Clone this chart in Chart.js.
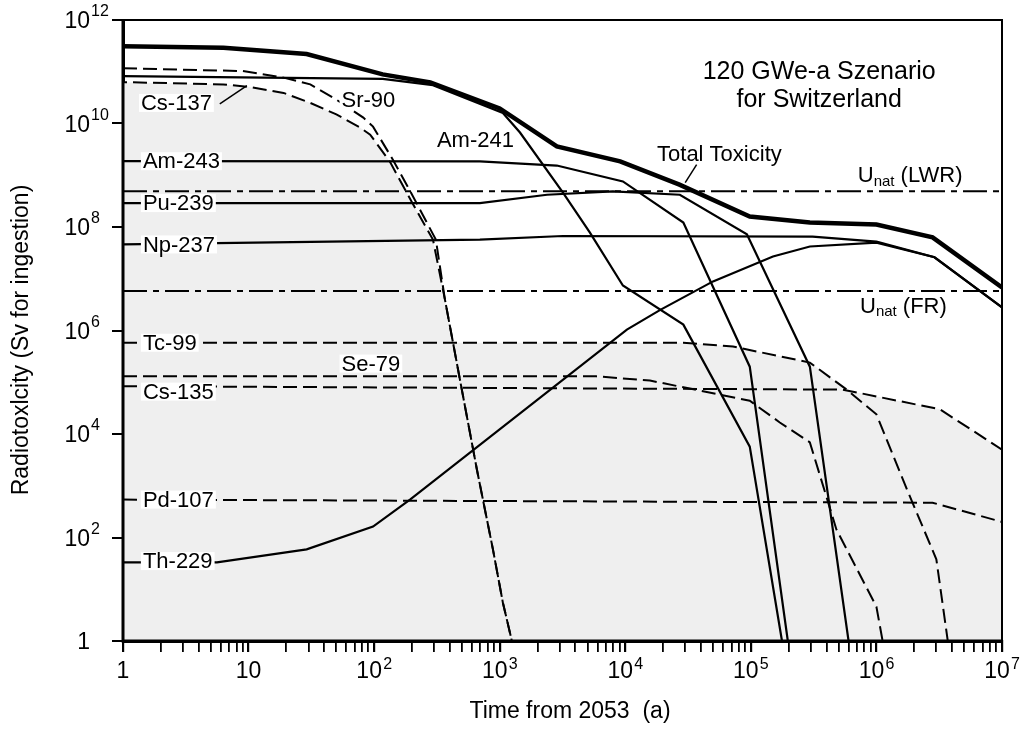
<!DOCTYPE html>
<html>
<head>
<meta charset="utf-8">
<script src="https://cdn.jsdelivr.net/npm/chart.js@4.4.1/dist/chart.umd.min.js"></script>
<style>
  html, body { margin: 0; padding: 0; background: #fff; }
  #wrap { width: 1026px; height: 731px; position: relative; }
</style>
</head>
<body>
<div id="wrap"><canvas id="chart"></canvas></div>
<script>
const FONT = '"Liberation Sans", Arial, Helvetica, sans-serif';

// axis decades (exponents of 10)
const xExponents = [0, 1, 2, 3, 4, 5, 6, 7];
const yExponents = [0, 2, 4, 6, 8, 10, 12];
const minorMantissas = [2, 3, 4, 5, 6, 7, 8, 9];

// time from 2053 (a) and radiotoxicity (Sv)
const totalT = [1, 6.3, 29, 117, 280, 1000, 2850, 9100, 2.7e4, 9.8e4, 2.95e5, 1e6, 2.8e6, 1e7];
const totalV = [3.1e11, 2.9e11, 2.2e11, 8.9e10, 6.2e10, 1.95e10, 3.6e9, 1.85e9, 6.6e8, 1.6e8, 1.22e8, 1.12e8, 6.3e7, 6.8e6];

const sr90T = [1, 9, 19, 31, 50, 82, 98, 141, 204, 310, 366, 482, 658, 883, 1060, 1250];
const sr90V = [1.17e11, 1.03e11, 7.7e10, 5.7e10, 2.9e10, 1.3e10, 8.7e9, 2.0e9, 3.9e8, 5.7e7, 4.0e6, 1.13e5, 2.06e3, 59, 5.5, 1];

const cs137T = [1, 6.3, 10, 19, 31, 50, 77, 93, 134, 200, 294, 366, 482, 658, 883, 1060, 1250];
const cs137V = [6.3e10, 5.7e10, 5.1e10, 3.9e10, 2.5e10, 1.5e10, 8.4e9, 6.1e9, 1.8e9, 3.0e8, 5.7e7, 4.0e6, 1.13e5, 2.06e3, 59, 5.5, 1];

const am241T = [1, 117, 294, 1060, 1450, 3190, 5230, 9570, 2.9e4, 9.8e4, 1.77e5];
const am241V = [8.2e10, 7.3e10, 5.5e10, 1.6e10, 6.7e9, 4.6e8, 7.8e7, 7.4e6, 1.3e6, 5.7e3, 1];

const am243T = [1, 695, 2850, 9570, 2.9e4, 9.8e4, 1.97e5];
const am243V = [1.87e9, 1.85e9, 1.54e9, 7.6e8, 1.22e8, 2.0e5, 1];

const pu239T = [1, 695, 2380, 7960, 2.72e4, 9.3e4, 2.95e5, 6.0e5];
const pu239V = [2.9e8, 2.9e8, 4.2e8, 4.9e8, 4.2e8, 7.2e7, 2.0e5, 1];

const np237T = [1, 695, 3190, 3.1e5, 1e6, 2.9e6, 1e7];
const np237V = [4.6e7, 5.7e7, 6.7e7, 6.5e7, 5.2e7, 2.6e7, 2.8e6];

const th229T = [1, 5.6, 29, 98, 193, 1.03e4, 1.9e4, 5.0e4, 1.5e5, 2.95e5, 1e6, 2.9e6, 1e7];
const th229V = [33, 33, 59, 163, 540, 1.04e6, 2.5e6, 8.9e6, 2.7e7, 4.2e7, 5.0e7, 2.6e7, 2.8e6];

const tc99T = [1, 2.9e4, 7.2e4, 2.95e5, 5.8e5, 1e6, 1.75e6, 3.0e6, 3.7e6];
const tc99V = [5.8e5, 5.8e5, 4.9e5, 2.4e5, 7.2e4, 2.4e4, 850, 38, 1];

const se79T = [1, 5.9e3, 1.57e4, 9.8e4, 1.7e5, 2.95e5, 4.8e5, 1e6, 1.12e6];
const se79V = [1.3e5, 1.3e5, 1.08e5, 4.4e4, 1.67e4, 6.9e3, 143, 4.6, 1];

const cs135T = [1, 5.4e5, 3.2e6, 1e7];
const cs135V = [8.4e4, 7.2e4, 3.0e4, 5e3];

const pd107T = [1, 2.8e6, 1e7];
const pd107V = [540, 470, 200];

const unatT = [1, 1e7];
const unatLwrV = [4.9e8, 4.9e8];
const unatFrV = [5.8e6, 5.8e6];

// curve labels (anchored at left edge / vertical middle, in data units)
const labelTexts = ['Cs-137', 'Sr-90', 'Am-241', 'Am-243', 'Pu-239', 'Np-237', 'Tc-99', 'Se-79', 'Cs-135', 'Pd-107', 'Th-229', 'Total Toxicity'];
const labelX = [1.39, 55, 316, 1.44, 1.44, 1.44, 1.44, 55, 1.44, 1.44, 1.44, 1.79e4];
const labelY = [2.5e10, 2.8e10, 4.9e9, 1.87e9, 2.9e8, 4.6e7, 5.8e5, 2.3e5, 6.6e4, 540, 35, 2.6e9];

const unatSuffix = [' (LWR)', ' (FR)'];
const unatLabelX = [7.1e5, 7.4e5];
const unatLabelY = [9.5e8, 2.9e6];

// leader lines: [x1, y1, x2, y2]
const leaders = [
  [5.9, 2.4e10, 9.7, 5.4e10],
  [3.7e4, 1.6e9, 3.0e4, 7.2e8]
];

const titleLines = ['120 GWe-a Szenario', 'for Switzerland'];
const titleX = 3.5e5;
const titleY = [9.9e10, 2.8e10];

const SHADE = '#efefef';

function pts(t, v) {
  return t.map((x, i) => ({ x: x, y: v[i] }));
}

function solid(data, width) {
  return { data: data, borderColor: '#000', borderWidth: width, pointRadius: 0, fill: false };
}

function dashed(data, extra) {
  return Object.assign({ data: data, borderColor: '#000', borderWidth: 2, borderDash: [14, 6], pointRadius: 0, fill: false }, extra || {});
}

const datasets = [
  solid(pts(totalT, totalV), 4.5),
  dashed(pts(sr90T, sr90V)),
  dashed(pts(cs137T, cs137V), { borderDashOffset: 10, fill: 'start', backgroundColor: SHADE }),
  solid(pts(am241T, am241V), 2.2),
  solid(pts(am243T, am243V), 2.2),
  solid(pts(pu239T, pu239V), 2.2),
  solid(pts(np237T, np237V), 2.2),
  solid(pts(th229T, th229V), 2.2),
  dashed(pts(tc99T, tc99V), { fill: 'start', backgroundColor: SHADE }),
  dashed(pts(se79T, se79V)),
  dashed(pts(cs135T, cs135V), { fill: 'start', backgroundColor: SHADE }),
  dashed(pts(pd107T, pd107V)),
  dashed(pts(unatT, unatLwrV), { borderDash: [24, 6, 6, 6] }),
  dashed(pts(unatT, unatFrV), { borderDash: [24, 6, 6, 6] })
];

function isDecade(v) {
  const l = Math.log10(v);
  return Math.abs(l - Math.round(l)) < 1e-9;
}

// frame plus all text drawn on the canvas
const decorations = {
  id: 'decorations',
  afterDatasetsDraw(chart) {
    const { ctx, scales: { x, y } } = chart;
    ctx.save();
    ctx.font = '22px ' + FONT;
    ctx.textBaseline = 'middle';
    ctx.textAlign = 'left';
    labelTexts.forEach((txt, i) => {
      const px = x.getPixelForValue(labelX[i]);
      const py = y.getPixelForValue(labelY[i]);
      const w = ctx.measureText(txt).width;
      ctx.fillStyle = '#fff';
      ctx.fillRect(px - 2, py - 9, w + 4, 18);
      ctx.fillStyle = '#000';
      ctx.fillText(txt, px, py + 1);
    });

    unatSuffix.forEach((suf, i) => {
      let px = x.getPixelForValue(unatLabelX[i]);
      const py = y.getPixelForValue(unatLabelY[i]);
      ctx.fillStyle = '#000';
      ctx.font = '22px ' + FONT;
      ctx.fillText('U', px, py);
      px += ctx.measureText('U').width;
      ctx.font = '15px ' + FONT;
      ctx.fillText('nat', px, py + 5);
      px += ctx.measureText('nat').width;
      ctx.font = '22px ' + FONT;
      ctx.fillText(suf, px, py);
    });

    ctx.strokeStyle = '#000';
    ctx.lineWidth = 1.5;
    leaders.forEach(l => {
      ctx.beginPath();
      ctx.moveTo(x.getPixelForValue(l[0]), y.getPixelForValue(l[1]));
      ctx.lineTo(x.getPixelForValue(l[2]), y.getPixelForValue(l[3]));
      ctx.stroke();
    });

    ctx.font = '25px ' + FONT;
    ctx.textAlign = 'center';
    ctx.fillStyle = '#000';
    titleLines.forEach((txt, i) => {
      ctx.fillText(txt, x.getPixelForValue(titleX), y.getPixelForValue(titleY[i]));
    });
    ctx.restore();
  },
  afterDraw(chart) {
    const { ctx, chartArea: a, scales: { x, y } } = chart;
    ctx.save();
    ctx.strokeStyle = '#000';
    ctx.lineWidth = 2;
    ctx.beginPath();
    ctx.moveTo(a.left, a.top);
    ctx.lineTo(a.right, a.top);
    ctx.lineTo(a.right, a.bottom);
    ctx.stroke();
    // left and bottom axis lines again, on top of the shading
    ctx.lineWidth = 3;
    ctx.beginPath();
    ctx.moveTo(a.left, a.top - 1);
    ctx.lineTo(a.left, a.bottom);
    ctx.lineTo(a.right + 1, a.bottom);
    ctx.stroke();

    ctx.fillStyle = '#000';
    ctx.textBaseline = 'middle';

    // x tick labels
    xExponents.forEach(p => {
      const px = x.getPixelForValue(Math.pow(10, p));
      ctx.font = '23px ' + FONT;
      ctx.textAlign = 'center';
      if (p === 0) {
        ctx.fillText('1', px, 672);
      } else if (p === 1) {
        ctx.fillText('10', px, 672);
      } else {
        ctx.fillText('10', px - 5, 672);
        ctx.font = '16px ' + FONT;
        ctx.textAlign = 'left';
        ctx.fillText(String(p), px + 9, 665);
      }
    });

    // y tick labels
    yExponents.forEach(p => {
      const py = y.getPixelForValue(Math.pow(10, p));
      ctx.font = '23px ' + FONT;
      ctx.textAlign = 'right';
      if (p === 0) {
        ctx.fillText('1', 90, py + 2);
      } else {
        ctx.fillText('10', 90, py + 2);
        ctx.font = '16px ' + FONT;
        ctx.textAlign = 'left';
        ctx.fillText(String(p), 91, py - 8);
      }
    });

    // axis titles
    ctx.font = '23px ' + FONT;
    ctx.textAlign = 'center';
    ctx.fillText('Time from 2053  (a)', 570, 712);
    ctx.translate(22, 340);
    ctx.rotate(-Math.PI / 2);
    ctx.fillText('Radiotoxlcity (Sv for ingestion)', 0, 0);
    ctx.restore();
  }
};

new Chart(document.getElementById('chart'), {
  type: 'line',
  data: { datasets: datasets },
  options: {
    responsive: true,
    maintainAspectRatio: false,
    animation: false,
    layout: { padding: { top: 20, right: 24, left: 0, bottom: 0 } },
    elements: { line: { tension: 0 } },
    plugins: {
      legend: { display: false },
      tooltip: { enabled: false },
      filler: { drawTime: 'beforeDatasetsDraw' }
    },
    scales: {
      x: {
        type: 'logarithmic',
        min: 1,
        max: 1e7,
        afterBuildTicks: s => {
          const ticks = [];
          xExponents.forEach(p => {
            ticks.push({ value: Math.pow(10, p) });
            if (p < 7) minorMantissas.forEach(m => ticks.push({ value: m * Math.pow(10, p) }));
          });
          s.ticks = ticks;
        },
        afterFit: s => { s.height = 90; },
        ticks: { display: false },
        grid: {
          drawOnChartArea: false,
          drawTicks: true,
          tickLength: 11,
          color: '#000',
          lineWidth: c => (c.tick && isDecade(c.tick.value) ? 2.2 : 1.8)
        },
        border: { display: true, color: '#000', width: 3 }
      },
      y: {
        type: 'logarithmic',
        min: 1,
        max: 1e12,
        afterBuildTicks: s => { s.ticks = yExponents.map(p => ({ value: Math.pow(10, p) })); },
        afterFit: s => { s.width = 123; },
        ticks: { display: false },
        grid: {
          drawOnChartArea: false,
          drawTicks: true,
          tickLength: 11,
          color: '#000',
          lineWidth: 2
        },
        border: { display: true, color: '#000', width: 3 }
      }
    }
  },
  plugins: [decorations]
});
</script>
</body>
</html>
